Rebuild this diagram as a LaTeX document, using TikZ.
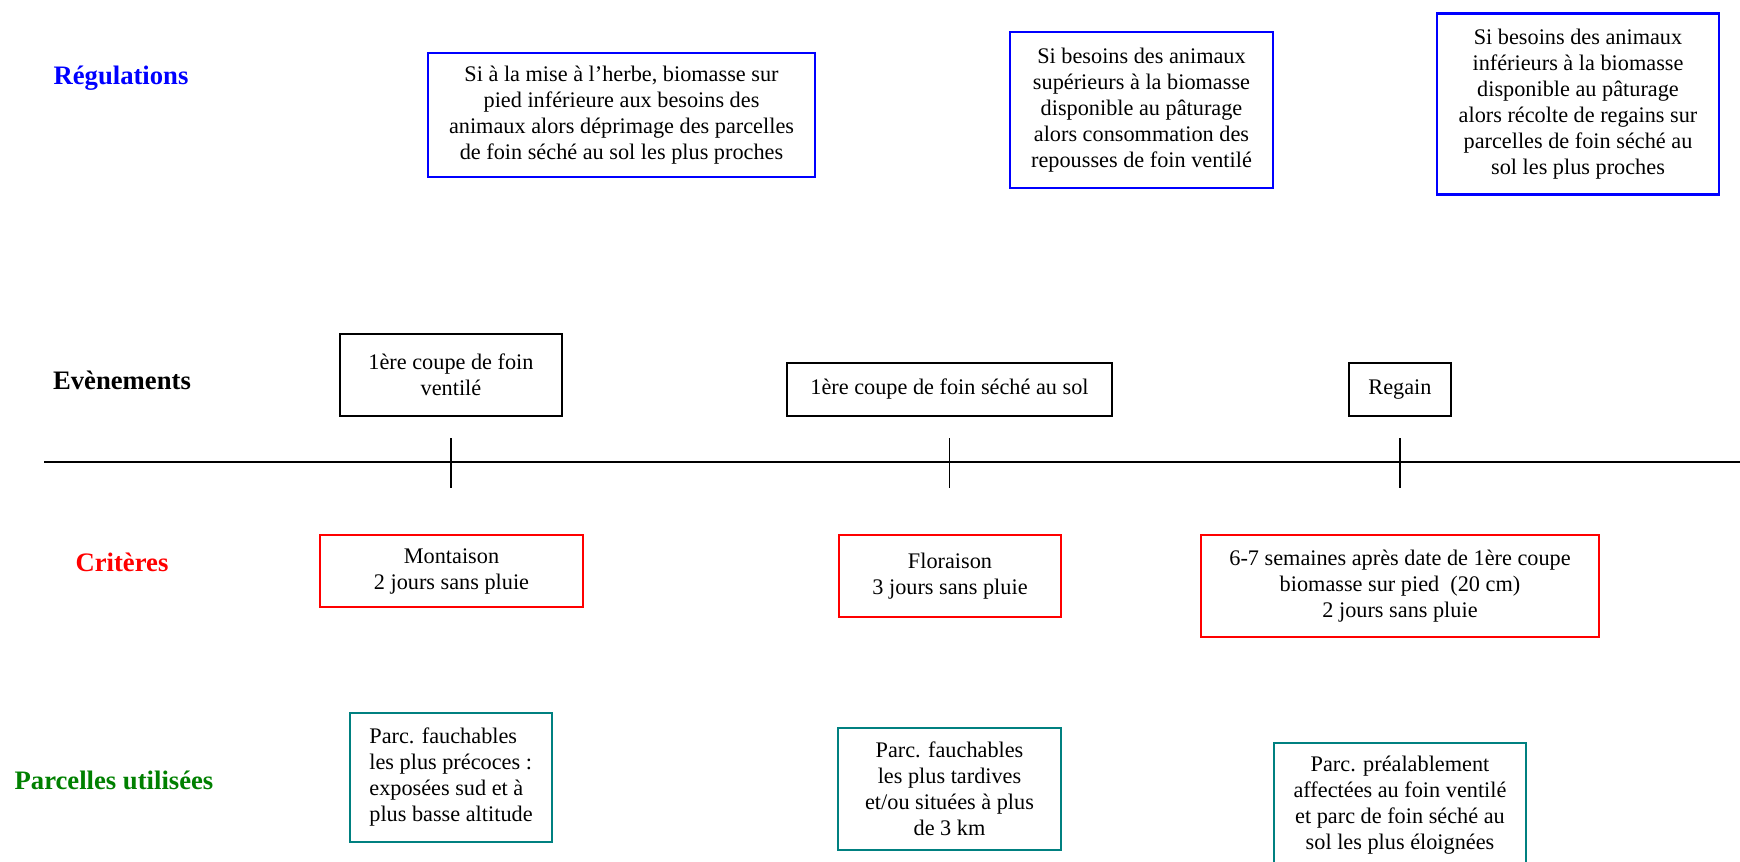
\documentclass[tikz,border=0pt]{standalone}
\usepackage{fontspec}
\setmainfont{Liberation Serif}
\usetikzlibrary{calc}
\definecolor{regblue}{HTML}{0000FF}
\definecolor{critred}{HTML}{FF0000}
\definecolor{parcteal}{HTML}{008080}
\definecolor{labgreen}{HTML}{008000}
\tikzset{
  box/.style={draw, line width=2pt, align=center, inner sep=3pt, font=\fontsize{16.7}{19.5}\selectfont},
  regbox/.style={box, draw=regblue},
  evtbox/.style={box, draw=black},
  critbox/.style={box, draw=critred},
  parcbox/.style={box, draw=parcteal},
  rowlabel/.style={font=\fontsize{20}{24}\selectfont\bfseries},
  axis/.style={line width=1pt, color=black},
  tick/.style={line width=0.9pt, color=black}
}

\begin{document}
\begin{tikzpicture}[x=0.75pt, y=-0.75pt]
\clip (0,0) rectangle (1740,861);
\node[rowlabel, text=regblue] (labReg) at (121,78) {Régulations};
\node[rowlabel] (labEvt) at (122,380) {Evènements};
\node[rowlabel, text=critred] (labCrit) at (122,562) {Critères};
\node[rowlabel, text=labgreen] (labParc) at (114,780) {Parcelles utilisées};
\node[regbox, minimum width=290.25pt, minimum height=93pt] (reg1) at (621.5,115)
  {Si à la mise à l’herbe, biomasse sur\\pied inférieure aux besoins des\\animaux alors déprimage des parcelles\\de foin séché au sol les plus proches};
\node[regbox, minimum width=197.25pt, minimum height=117pt] (reg2) at (1141.5,110)
  {Si besoins des animaux\\supérieurs à la biomasse\\disponible au pâturage\\alors consommation des\\repousses de foin ventilé};
\node[regbox, minimum width=211.5pt, minimum height=135.75pt] (reg3) at (1578,104)
  {Si besoins des animaux\\inférieurs à la biomasse\\disponible au pâturage\\alors récolte de regains sur\\parcelles de foin séché au\\sol les plus proches};
\node[evtbox, minimum width=166.5pt, minimum height=61.5pt] (evt1) at (451,375)
  {1ère coupe de foin\\ventilé};
\node[evtbox, minimum width=243.75pt, minimum height=39.75pt] (evt2) at (949.5,389.5)
  {1ère coupe de foin séché au sol};
\node[evtbox, minimum width=76.5pt, minimum height=39.75pt] (evt3) at (1400,389.5)
  {Regain};
\coordinate (TlL) at (44,462);
\coordinate (TlR) at (1740,462);
\draw[axis] (TlL) -- (TlR);
\foreach \e in {evt1,evt2,evt3} {\draw[tick] ($(\e |- TlL)+(0,-24)$) -- ($(\e |- TlL)+(0,26)$);}
\node[critbox, minimum width=197.25pt, minimum height=54pt] (crit1) at (451.5,571)
  {Montaison\\2 jours sans pluie};
\node[critbox, minimum width=166.5pt, minimum height=61.5pt] (crit2) at (950,576)
  {Floraison\\3 jours sans pluie};
\node[critbox, minimum width=298.5pt, minimum height=76.5pt] (crit3) at (1400,586)
  {6-7 semaines après date de 1ère coupe\\biomasse sur pied\ \ (20 cm)\\2 jours sans pluie};
\node[parcbox, align=left, minimum width=151.5pt, minimum height=96.75pt] (parc1) at (451,777.5)
  {Parc. fauchables\\les plus précoces :\\exposées sud et à\\plus basse altitude};
\node[parcbox, minimum width=167.25pt, minimum height=91.5pt] (parc2) at (949.5,789)
  {Parc. fauchables\\les plus tardives\\et/ou situées à plus\\de 3 km};
\node[parcbox, minimum width=189pt, minimum height=93pt] (parc3) at (1400,805)
  {Parc. préalablement\\affectées au foin ventilé\\et parc de foin séché au\\sol les plus éloignées};
\end{tikzpicture}
\end{document}
